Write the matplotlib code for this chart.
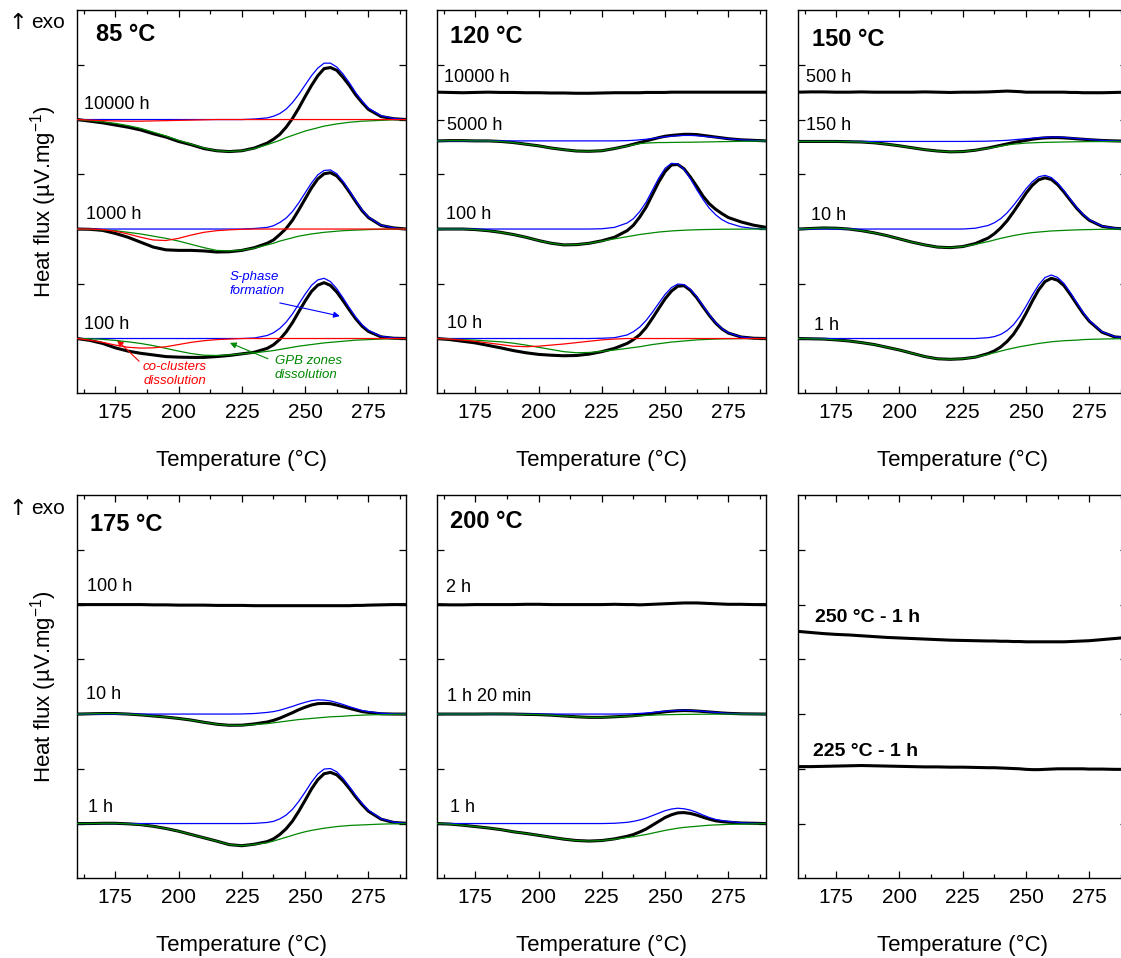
import matplotlib
matplotlib.use('Agg')
import matplotlib.pyplot as plt
from matplotlib.ticker import MultipleLocator

plt.rcParams['font.family'] = ['Liberation Sans', 'DejaVu Sans']
plt.rcParams['mathtext.default'] = 'regular'

# temperature grid (degC), shared by every curve
T = [160, 165, 170, 175, 180, 185, 190, 195, 200, 205, 210, 215, 220, 225, 230,
     235, 237.5, 240, 242.5, 245, 247.5, 250, 252.5, 255, 257.5, 260, 262.5, 265, 267.5, 270, 272.5, 275,
     280, 285, 290]

# heat flux, relative to each curve's own baseline (one tick = 1 unit)
# exp = measured, S = S-phase formation, GPB = GPB zones dissolution, cc = co-clusters dissolution

# ---- 85 C
a85_10000_exp = [0, -0.03, -0.06, -0.10, -0.14, -0.19, -0.26, -0.32, -0.40, -0.46, -0.53, -0.57, -0.585, -0.57, -0.52,
                 -0.43, -0.36, -0.27, -0.14, 0.02, 0.21, 0.42, 0.62, 0.80, 0.93, 0.95, 0.90, 0.77, 0.62, 0.45, 0.31, 0.185,
                 0.055, 0.015, 0]
a85_10000_S = [0, 0, 0, 0, 0, 0, 0, 0, 0, 0, 0, 0, 0, 0, 0.01,
               0.03, 0.06, 0.11, 0.19, 0.31, 0.46, 0.63, 0.80, 0.94, 1.03, 1.03, 0.96, 0.83, 0.67, 0.49, 0.34, 0.21,
               0.07, 0.02, 0]
a85_10000_GPB = [0, -0.02, -0.04, -0.07, -0.11, -0.16, -0.23, -0.30, -0.38, -0.45, -0.52, -0.57, -0.585, -0.57, -0.53,
                 -0.46, -0.42, -0.38, -0.33, -0.29, -0.25, -0.21, -0.18, -0.15, -0.12, -0.10, -0.08, -0.065, -0.05, -0.04, -0.03, -0.025,
                 -0.015, -0.005, 0]
a85_10000_cc = [0, -0.01, -0.02, -0.025, -0.03, -0.03, -0.025, -0.02, -0.015, -0.01, -0.005, 0, 0, 0, 0,
                0, 0, 0, 0, 0, 0, 0, 0, 0, 0, 0, 0, 0, 0, 0, 0, 0,
                0, 0, 0]

a85_1000_exp = [0, -0.005, -0.025, -0.08, -0.15, -0.24, -0.33, -0.38, -0.39, -0.39, -0.40, -0.42, -0.415, -0.39, -0.34,
                -0.26, -0.20, -0.10, 0.01, 0.16, 0.35, 0.55, 0.75, 0.915, 1.01, 1.03, 0.97, 0.84, 0.675, 0.50, 0.335, 0.21,
                0.065, 0.02, 0]
a85_1000_S = [0, 0, 0, 0, 0, 0, 0, 0, 0, 0, 0, 0, 0, 0, 0.01,
              0.03, 0.06, 0.12, 0.20, 0.32, 0.48, 0.66, 0.84, 0.99, 1.07, 1.08, 1.01, 0.87, 0.70, 0.52, 0.35, 0.22,
              0.07, 0.02, 0]
a85_1000_GPB = [0, -0.005, -0.015, -0.03, -0.06, -0.09, -0.13, -0.17, -0.22, -0.28, -0.34, -0.39, -0.40, -0.385, -0.35,
                -0.29, -0.26, -0.22, -0.19, -0.16, -0.13, -0.11, -0.09, -0.075, -0.06, -0.05, -0.04, -0.03, -0.025, -0.02, -0.015, -0.01,
                -0.005, 0, 0]
a85_1000_cc = [0, 0, -0.01, -0.04, -0.09, -0.15, -0.20, -0.21, -0.17, -0.11, -0.06, -0.03, -0.015, -0.005, 0,
               0, 0, 0, 0, 0, 0, 0, 0, 0, 0, 0, 0, 0, 0, 0, 0, 0,
               0, 0, 0]

a85_100_exp = [0, -0.035, -0.09, -0.17, -0.23, -0.27, -0.30, -0.33, -0.34, -0.345, -0.345, -0.33, -0.31, -0.28, -0.25,
               -0.18, -0.115, -0.015, 0.12, 0.29, 0.49, 0.685, 0.86, 0.975, 1.02, 0.97, 0.85, 0.69, 0.52, 0.36, 0.225, 0.13,
               0.03, 0.005, 0]
a85_100_S = [0, 0, 0, 0, 0, 0, 0, 0, 0, 0, 0, 0, 0, 0, 0.01,
             0.055, 0.105, 0.185, 0.30, 0.45, 0.63, 0.81, 0.97, 1.07, 1.10, 1.04, 0.91, 0.74, 0.56, 0.39, 0.25, 0.15,
             0.04, 0.01, 0]
a85_100_GPB = [0, -0.005, -0.015, -0.035, -0.06, -0.09, -0.13, -0.18, -0.23, -0.275, -0.305, -0.31, -0.30, -0.28, -0.26,
               -0.235, -0.22, -0.20, -0.18, -0.16, -0.14, -0.125, -0.11, -0.095, -0.08, -0.07, -0.06, -0.05, -0.04, -0.03, -0.025, -0.02,
               -0.01, -0.005, 0]
a85_100_cc = [0, -0.03, -0.07, -0.12, -0.16, -0.175, -0.17, -0.15, -0.11, -0.07, -0.04, -0.02, -0.01, 0, 0,
              0, 0, 0, 0, 0, 0, 0, 0, 0, 0, 0, 0, 0, 0, 0, 0, 0,
              0, 0, 0]

# ---- 120 C
a120_10000_exp = [0, -0.005, -0.01, -0.005, 0, -0.005, -0.005, -0.01, -0.01, -0.015, -0.015, -0.02, -0.02, -0.015, -0.01,
                  -0.01, -0.01, -0.01, -0.005, -0.005, -0.005, -0.005, 0, 0, 0, 0, 0, 0, 0, 0, 0, 0,
                  0, 0, 0]

a120_5000_exp = [0, 0.005, 0.005, 0, 0, -0.01, -0.03, -0.06, -0.09, -0.13, -0.16, -0.185, -0.19, -0.18, -0.14,
                 -0.09, -0.06, -0.03, 0.0, 0.03, 0.06, 0.085, 0.10, 0.11, 0.12, 0.12, 0.115, 0.10, 0.085, 0.07, 0.055, 0.04,
                 0.02, 0.01, 0]
a120_5000_S = [0, 0, 0, 0, 0, 0, 0, 0, 0, 0, 0, 0, 0, 0, 0,
               0.005, 0.01, 0.02, 0.03, 0.045, 0.06, 0.075, 0.085, 0.095, 0.10, 0.10, 0.095, 0.085, 0.075, 0.065, 0.05, 0.04,
               0.02, 0.01, 0]
a120_5000_GPB = [0, 0.005, 0.005, 0, 0, -0.01, -0.03, -0.06, -0.09, -0.13, -0.16, -0.185, -0.19, -0.18, -0.14,
                 -0.095, -0.07, -0.05, -0.04, -0.035, -0.03, -0.03, -0.028, -0.026, -0.025, -0.024, -0.022, -0.02, -0.018, -0.016, -0.014, -0.012,
                 -0.008, -0.004, 0]

a120_100_exp = [0, 0, 0, -0.01, -0.03, -0.06, -0.10, -0.15, -0.21, -0.26, -0.29, -0.285, -0.26, -0.215, -0.15,
                -0.03, 0.07, 0.22, 0.40, 0.63, 0.86, 1.05, 1.17, 1.18, 1.10, 0.95, 0.78, 0.60, 0.46, 0.36, 0.28, 0.21,
                0.13, 0.07, 0.03]
a120_100_S = [0, 0, 0, 0, 0, 0, 0, 0, 0, 0, 0, 0, 0, 0.005, 0.03,
              0.11, 0.19, 0.32, 0.49, 0.71, 0.93, 1.11, 1.20, 1.19, 1.09, 0.92, 0.72, 0.54, 0.38, 0.26, 0.17, 0.11,
              0.04, 0.01, 0]
a120_100_GPB = [0, 0, 0, -0.01, -0.03, -0.06, -0.10, -0.15, -0.21, -0.26, -0.29, -0.285, -0.26, -0.22, -0.18,
                -0.14, -0.12, -0.10, -0.085, -0.07, -0.055, -0.045, -0.035, -0.028, -0.022, -0.017, -0.013, -0.01, -0.008, -0.006, -0.004, -0.003,
                -0.002, 0, 0]

a120_10_exp = [0, -0.02, -0.05, -0.08, -0.125, -0.17, -0.22, -0.26, -0.29, -0.305, -0.315, -0.31, -0.285, -0.24, -0.18,
               -0.09, -0.02, 0.07, 0.20, 0.37, 0.55, 0.725, 0.865, 0.955, 0.965, 0.88, 0.745, 0.58, 0.42, 0.28, 0.173, 0.10,
               0.028, 0.005, 0]
a120_10_S = [0, 0, 0, 0, 0, 0, 0, 0, 0, 0, 0, 0, 0, 0.005, 0.015,
             0.065, 0.125, 0.21, 0.33, 0.48, 0.645, 0.805, 0.93, 0.995, 0.985, 0.90, 0.765, 0.60, 0.435, 0.29, 0.18, 0.105,
             0.03, 0.005, 0]
a120_10_GPB = [0, -0.01, -0.02, -0.03, -0.045, -0.06, -0.085, -0.12, -0.16, -0.20, -0.24, -0.26, -0.255, -0.235, -0.21,
               -0.18, -0.165, -0.15, -0.13, -0.11, -0.095, -0.08, -0.065, -0.055, -0.045, -0.035, -0.025, -0.02, -0.015, -0.01, -0.007, -0.005,
               -0.002, 0, 0]
a120_10_cc = [0, -0.01, -0.03, -0.05, -0.08, -0.11, -0.14, -0.15, -0.14, -0.12, -0.10, -0.075, -0.05, -0.025, -0.01,
              0, 0, 0, 0, 0, 0, 0, 0, 0, 0, 0, 0, 0, 0, 0, 0, 0,
              0, 0, 0]

# ---- 150 C
a150_500_exp = [0, 0.005, 0.005, 0, 0, 0.005, 0, 0, 0, 0, 0.005, 0, -0.005, 0, 0,
                0.005, 0.01, 0.015, 0.02, 0.015, 0.01, 0, 0, 0, 0, 0, 0, 0, -0.005, -0.005, -0.01, -0.01,
                -0.01, -0.005, 0]

a150_150_exp = [0, 0, 0, 0, -0.005, -0.01, -0.025, -0.05, -0.08, -0.115, -0.15, -0.175, -0.19, -0.185, -0.16,
                -0.12, -0.095, -0.07, -0.045, -0.02, 0.0, 0.02, 0.04, 0.055, 0.065, 0.07, 0.07, 0.065, 0.057, 0.048, 0.04, 0.032,
                0.018, 0.01, 0.005]
a150_150_S = [0, 0, 0, 0, 0, 0, 0, 0, 0, 0, 0, 0, 0, 0, 0.002,
              0.005, 0.01, 0.015, 0.02, 0.03, 0.04, 0.05, 0.06, 0.07, 0.075, 0.08, 0.08, 0.075, 0.065, 0.055, 0.045, 0.035,
              0.02, 0.01, 0.005]
a150_150_GPB = [0, 0, 0, 0, -0.005, -0.01, -0.025, -0.05, -0.08, -0.115, -0.15, -0.175, -0.19, -0.185, -0.16,
                -0.125, -0.105, -0.085, -0.065, -0.05, -0.04, -0.03, -0.025, -0.02, -0.017, -0.015, -0.012, -0.01, -0.008, -0.006, -0.004, -0.003,
                -0.002, 0, 0]

a150_10_exp = [0, 0.01, 0.02, 0.015, 0, -0.03, -0.07, -0.12, -0.18, -0.24, -0.29, -0.33, -0.34, -0.32, -0.265,
               -0.165, -0.085, 0.02, 0.15, 0.31, 0.48, 0.655, 0.80, 0.90, 0.935, 0.905, 0.81, 0.675, 0.525, 0.38, 0.258, 0.16,
               0.05, 0.013, 0]
a150_10_S = [0, 0, 0, 0, 0, 0, 0, 0, 0, 0, 0, 0, 0, 0, 0.015,
             0.065, 0.115, 0.19, 0.295, 0.43, 0.58, 0.735, 0.865, 0.955, 0.98, 0.94, 0.84, 0.70, 0.545, 0.395, 0.27, 0.17,
             0.055, 0.015, 0]
a150_10_GPB = [0, 0.01, 0.02, 0.015, 0, -0.03, -0.07, -0.12, -0.18, -0.24, -0.29, -0.33, -0.34, -0.32, -0.28,
               -0.23, -0.20, -0.17, -0.145, -0.12, -0.10, -0.08, -0.065, -0.055, -0.045, -0.035, -0.03, -0.025, -0.02, -0.015, -0.012, -0.01,
               -0.005, -0.002, 0]

a150_1_exp = [0, -0.005, -0.01, -0.025, -0.045, -0.075, -0.11, -0.16, -0.21, -0.27, -0.33, -0.37, -0.38, -0.37, -0.34,
              -0.275, -0.225, -0.155, -0.055, 0.075, 0.25, 0.46, 0.685, 0.89, 1.04, 1.10, 1.065, 0.965, 0.805, 0.63, 0.46, 0.315,
              0.115, 0.03, 0.01]
a150_1_S = [0, 0, 0, 0, 0, 0, 0, 0, 0, 0, 0, 0, 0, 0, 0,
            0.015, 0.035, 0.075, 0.145, 0.25, 0.40, 0.59, 0.795, 0.98, 1.115, 1.16, 1.115, 1.005, 0.84, 0.66, 0.48, 0.33,
            0.125, 0.035, 0.01]
a150_1_GPB = [0, -0.005, -0.01, -0.025, -0.045, -0.075, -0.11, -0.16, -0.21, -0.27, -0.33, -0.37, -0.38, -0.37, -0.34,
              -0.29, -0.26, -0.23, -0.20, -0.175, -0.15, -0.13, -0.11, -0.09, -0.075, -0.06, -0.05, -0.04, -0.035, -0.03, -0.02, -0.015,
              -0.01, -0.005, 0]

# ---- 175 C
a175_100_exp = [0, 0, 0, 0, 0, 0, -0.005, -0.005, -0.01, -0.01, -0.01, -0.015, -0.015, -0.015, -0.02,
                -0.02, -0.02, -0.02, -0.02, -0.02, -0.02, -0.02, -0.02, -0.02, -0.02, -0.02, -0.02, -0.02, -0.02, -0.015, -0.015, -0.01,
                -0.005, 0, 0]

a175_10_exp = [0, 0.005, 0.01, 0.01, 0, -0.015, -0.035, -0.055, -0.08, -0.11, -0.15, -0.185, -0.205, -0.203, -0.18,
               -0.145, -0.115, -0.075, -0.025, 0.025, 0.08, 0.125, 0.165, 0.19, 0.195, 0.19, 0.165, 0.135, 0.105, 0.075, 0.045, 0.03,
               0.005, 0, 0]
a175_10_S = [0, 0, 0, 0, 0, 0, 0, 0, 0, 0, 0, 0, 0, 0.002, 0.01,
             0.03, 0.045, 0.07, 0.105, 0.14, 0.18, 0.215, 0.245, 0.26, 0.255, 0.24, 0.21, 0.175, 0.135, 0.10, 0.065, 0.045,
             0.015, 0.005, 0]
a175_10_GPB = [0, 0.005, 0.01, 0.01, 0, -0.015, -0.035, -0.055, -0.08, -0.11, -0.15, -0.185, -0.205, -0.205, -0.19,
               -0.175, -0.16, -0.145, -0.13, -0.115, -0.10, -0.09, -0.08, -0.07, -0.06, -0.05, -0.045, -0.04, -0.03, -0.025, -0.02, -0.015,
               -0.01, -0.005, 0]

a175_1_exp = [0, 0, 0.005, 0.005, -0.005, -0.02, -0.05, -0.09, -0.14, -0.20, -0.26, -0.32, -0.385, -0.405, -0.377,
              -0.33, -0.28, -0.20, -0.095, 0.045, 0.225, 0.425, 0.63, 0.80, 0.91, 0.935, 0.89, 0.78, 0.64, 0.485, 0.345, 0.225,
              0.08, 0.02, 0.005]
a175_1_S = [0, 0, 0, 0, 0, 0, 0, 0, 0, 0, 0, 0, 0, 0, 0.003,
            0.02, 0.04, 0.085, 0.155, 0.26, 0.405, 0.575, 0.755, 0.905, 0.995, 1.005, 0.945, 0.825, 0.675, 0.515, 0.37, 0.245,
            0.09, 0.025, 0.005]
a175_1_GPB = [0, 0, 0.005, 0.005, -0.005, -0.02, -0.05, -0.09, -0.14, -0.20, -0.26, -0.32, -0.385, -0.405, -0.38,
              -0.35, -0.32, -0.285, -0.25, -0.215, -0.18, -0.15, -0.125, -0.105, -0.085, -0.07, -0.055, -0.045, -0.035, -0.03, -0.025, -0.02,
              -0.01, -0.005, 0]

# ---- 200 C
a200_2_exp = [0, -0.005, -0.005, 0, 0, 0, 0, 0.005, 0.005, 0, 0, 0, 0, 0, 0.005,
              0, 0, -0.005, 0, 0.005, 0.01, 0.015, 0.02, 0.025, 0.03, 0.03, 0.03, 0.025, 0.02, 0.015, 0.01, 0.005,
              0.005, 0, 0]

a200_80_exp = [0, 0, 0, 0, 0.002, 0.002, 0, -0.005, -0.01, -0.02, -0.035, -0.05, -0.06, -0.06, -0.05,
               -0.037, -0.03, -0.018, -0.005, 0.01, 0.027, 0.041, 0.052, 0.06, 0.064, 0.062, 0.056, 0.047, 0.038, 0.029, 0.02, 0.013,
               0.005, 0.002, 0]
a200_80_S = [0, 0, 0, 0, 0, 0, 0, 0, 0, 0, 0, 0, 0, 0, 0,
             0.003, 0.006, 0.012, 0.02, 0.03, 0.042, 0.053, 0.062, 0.068, 0.07, 0.067, 0.06, 0.05, 0.04, 0.03, 0.02, 0.013,
             0.005, 0.002, 0]
a200_80_GPB = [0, 0, 0, 0, 0.002, 0.002, 0, -0.005, -0.01, -0.02, -0.035, -0.05, -0.06, -0.06, -0.05,
               -0.04, -0.035, -0.03, -0.025, -0.02, -0.015, -0.012, -0.01, -0.008, -0.006, -0.005, -0.004, -0.003, -0.002, -0.001, 0, 0,
               0, 0, 0]

a200_1_exp = [0, -0.01, -0.03, -0.055, -0.08, -0.11, -0.15, -0.18, -0.215, -0.25, -0.285, -0.31, -0.32, -0.31, -0.28,
              -0.233, -0.20, -0.154, -0.10, -0.03, 0.04, 0.11, 0.16, 0.195, 0.20, 0.185, 0.155, 0.115, 0.08, 0.05, 0.035, 0.025,
              0.01, 0.005, 0]
a200_1_S = [0, 0, 0, 0, 0, 0, 0, 0, 0, 0, 0, 0, 0, 0, 0.005,
            0.022, 0.04, 0.066, 0.10, 0.145, 0.19, 0.235, 0.265, 0.28, 0.27, 0.245, 0.205, 0.155, 0.11, 0.075, 0.055, 0.04,
            0.015, 0.005, 0]
a200_1_GPB = [0, -0.01, -0.03, -0.055, -0.08, -0.11, -0.15, -0.18, -0.215, -0.25, -0.285, -0.31, -0.32, -0.31, -0.285,
              -0.255, -0.24, -0.22, -0.20, -0.175, -0.15, -0.125, -0.105, -0.085, -0.07, -0.06, -0.05, -0.04, -0.03, -0.025, -0.02, -0.015,
              -0.01, -0.005, 0]

# ---- 250 C / 225 C, 1 h
a250_1_exp = [0.01, -0.01, -0.03, -0.045, -0.055, -0.07, -0.085, -0.10, -0.11, -0.12, -0.13, -0.14, -0.15, -0.155, -0.16,
              -0.165, -0.165, -0.17, -0.17, -0.175, -0.175, -0.18, -0.18, -0.18, -0.18, -0.18, -0.18, -0.18, -0.175, -0.17, -0.165, -0.16,
              -0.14, -0.12, -0.10]
a225_1_exp = [0.04, 0.04, 0.045, 0.05, 0.055, 0.06, 0.055, 0.05, 0.045, 0.04, 0.035, 0.035, 0.03, 0.03, 0.025,
              0.02, 0.02, 0.015, 0.01, 0.005, 0.0, -0.01, -0.015, -0.015, -0.01, -0.005, 0, 0, 0, 0, 0, -0.005,
              -0.005, -0.01, -0.01]

# layout: (label, baseline, label x, label y, curves)
panels = [
    ('85 °C', (167.3, 6.43), [
        ('10000 h', 5.0, 162.6, 5.19, dict(exp=a85_10000_exp, S=a85_10000_S, GPB=a85_10000_GPB, cc=a85_10000_cc)),
        ('1000 h', 3.0, 163.3, 3.19, dict(exp=a85_1000_exp, S=a85_1000_S, GPB=a85_1000_GPB, cc=a85_1000_cc)),
        ('100 h', 1.0, 162.8, 1.18, dict(exp=a85_100_exp, S=a85_100_S, GPB=a85_100_GPB, cc=a85_100_cc)),
    ]),
    ('120 °C', (165.1, 6.40), [
        ('10000 h', 5.5, 162.5, 5.68, dict(exp=a120_10000_exp)),
        ('5000 h', 4.61, 163.8, 4.81, dict(exp=a120_5000_exp, S=a120_5000_S, GPB=a120_5000_GPB)),
        ('100 h', 3.0, 163.6, 3.18, dict(exp=a120_100_exp, S=a120_100_S, GPB=a120_100_GPB)),
        ('10 h', 1.0, 163.8, 1.19, dict(exp=a120_10_exp, S=a120_10_S, GPB=a120_10_GPB, cc=a120_10_cc)),
    ]),
    ('150 °C', (165.4, 6.35), [
        ('500 h', 5.5, 162.9, 5.68, dict(exp=a150_500_exp)),
        ('150 h', 4.6, 163.2, 4.81, dict(exp=a150_150_exp, S=a150_150_S, GPB=a150_150_GPB)),
        ('10 h', 3.0, 165.1, 3.17, dict(exp=a150_10_exp, S=a150_10_S, GPB=a150_10_GPB)),
        ('1 h', 1.0, 166.4, 1.15, dict(exp=a150_1_exp, S=a150_1_S, GPB=a150_1_GPB)),
    ]),
    ('175 °C', (165.0, 6.34), [
        ('100 h', 5.0, 164.0, 5.25, dict(exp=a175_100_exp)),
        ('10 h', 3.0, 163.4, 3.27, dict(exp=a175_10_exp, S=a175_10_S, GPB=a175_10_GPB)),
        ('1 h', 1.0, 164.3, 1.21, dict(exp=a175_1_exp, S=a175_1_S, GPB=a175_1_GPB)),
    ]),
    ('200 °C', (165.1, 6.39), [
        ('2 h', 5.0, 163.4, 5.23, dict(exp=a200_2_exp)),
        ('1 h 20 min', 3.0, 163.7, 3.23, dict(exp=a200_80_exp, S=a200_80_S, GPB=a200_80_GPB)),
        ('1 h', 1.0, 165.0, 1.22, dict(exp=a200_1_exp, S=a200_1_S, GPB=a200_1_GPB)),
    ]),
    (None, None, [
        ('250 °C - 1 h', 4.5, 166.5, 4.69, dict(exp=a250_1_exp)),
        ('225 °C - 1 h', 2.0, 165.8, 2.24, dict(exp=a225_1_exp)),
    ]),
]

colors = {'exp': 'black', 'S': '#0000ff', 'GPB': '#008800', 'cc': '#ff0000'}
widths = {'exp': 2.2, 'S': 0.9, 'GPB': 0.9, 'cc': 0.9}
zorders = {'exp': 2, 'S': 3, 'GPB': 4, 'cc': 5}

fig = plt.figure(figsize=(11.21, 9.58), dpi=100)
lefts = [0.0690, 0.3901, 0.7121]
bottoms = [0.5895, 0.0832]
W, H = 0.2935, 0.4

axes = []
for i, (title, tpos, groups) in enumerate(panels):
    ax = fig.add_axes([lefts[i % 3], bottoms[i // 3], W, H])
    axes.append(ax)
    for label, base, lx, ly, curves in groups:
        for key, vals in curves.items():
            if len(vals) != len(T):
                raise ValueError(label + ' ' + key)
            ax.plot(T, [base + v for v in vals], color=colors[key], lw=widths[key],
                    zorder=zorders[key], solid_capstyle='round')
        if title is None:
            ax.text(lx, ly, label, fontsize=14, va='baseline', ha='left', fontweight='bold')
        else:
            ax.text(lx, ly, label, fontsize=13, va='baseline', ha='left')
    if title:
        ax.text(tpos[0], tpos[1], title, fontsize=17, fontweight='bold', va='baseline')
    ax.set_xlim(160, 290)
    ax.set_ylim(0, 7)
    ax.set_yticks(range(1, 7))
    ax.xaxis.set_major_locator(MultipleLocator(25))
    ax.xaxis.set_minor_locator(MultipleLocator(12.5))
    ax.tick_params(which='both', direction='in', top=True, right=True, labelleft=False,
                   labelsize=15, pad=7, width=0.9)
    ax.tick_params(which='major', length=5)
    ax.tick_params(which='minor', length=3)
    for s in ax.spines.values():
        s.set_linewidth(1.0)
    ax.set_xlabel('Temperature (°C)', fontsize=16, labelpad=20)
    if i % 3 == 0:
        ax.set_ylabel('Heat flux (µV.mg$^{-1}$)', fontsize=16, labelpad=13)

# "exo up" markers
for yb in (0.9708, 0.4635):
    fig.text(0.0075, yb - 0.001, '↑', fontsize=16, va='baseline', family='DejaVu Sans')
    fig.text(0.0275, yb, 'exo', fontsize=15, va='baseline')

# annotations of the fitted components (85 C panel)
ax = axes[0]
arrow = dict(arrowstyle='-|>', lw=0.8, mutation_scale=9, shrinkA=0, shrinkB=0)
ax.annotate('', xy=(263.7, 1.41), xytext=(240, 1.65), arrowprops=dict(arrow, color='#0000ff'))
ax.text(220, 2.0, 'S-phase\nformation', color='#0000ff', style='italic', fontsize=9.5,
        ha='left', va='center', linespacing=1.25)
ax.annotate('', xy=(175.7, 0.97), xytext=(184.4, 0.585), arrowprops=dict(arrow, color='#ff0000'))
ax.text(198.6, 0.35, 'co-clusters\ndissolution', color='#ff0000', style='italic', fontsize=9.5,
        ha='center', va='center', linespacing=1.15)
ax.annotate('', xy=(220.3, 0.92), xytext=(235.3, 0.63), arrowprops=dict(arrow, color='#008800'))
ax.text(238, 0.46, 'GPB zones\ndissolution', color='#008800', style='italic', fontsize=9.5,
        ha='left', va='center', linespacing=1.15)

fig.savefig('out.png', dpi=100)
